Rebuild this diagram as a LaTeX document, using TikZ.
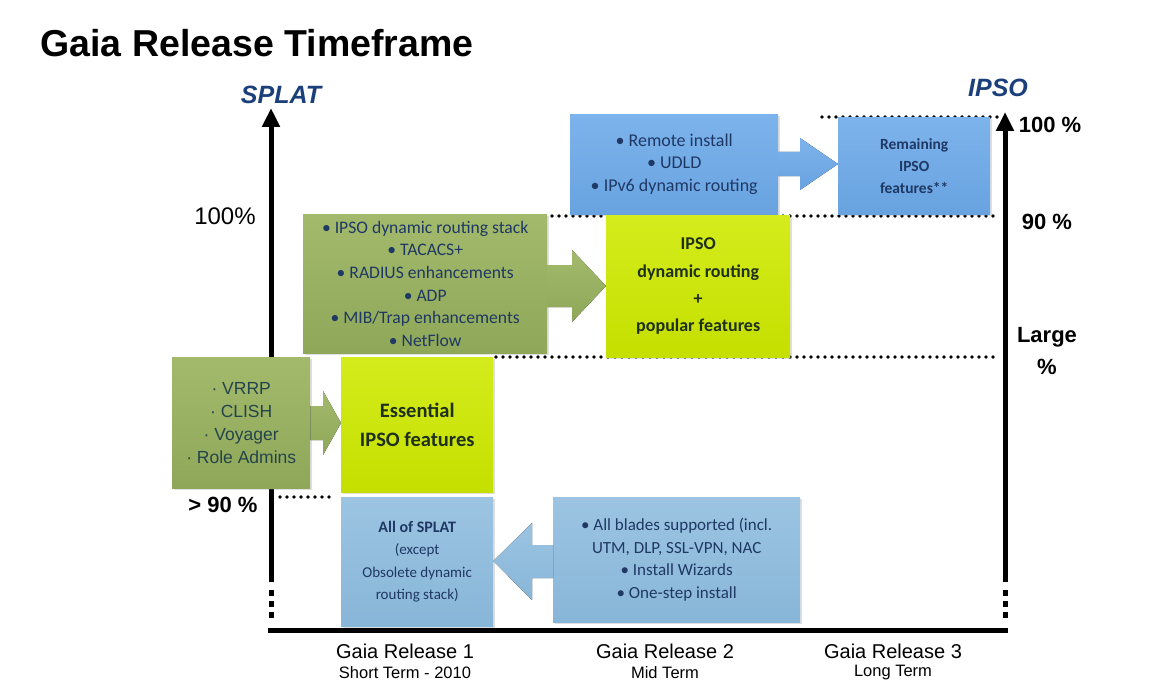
\documentclass[tikz,border=0pt]{standalone}
\usepackage{fontspec}
\setmainfont{Liberation Sans}
\newfontfamily\calib{Carlito}
\usetikzlibrary{arrows.meta,shadows,calc}
\definecolor{navy}{HTML}{1F3864}
\definecolor{labblue}{HTML}{1B3F7A}
\definecolor{olive}{HTML}{8FA758}
\definecolor{oliveL}{HTML}{A3BA6C}
\definecolor{lime}{HTML}{C5DF00}
\definecolor{limeL}{HTML}{D4EC1C}
\definecolor{bluebox}{HTML}{68A3E0}
\definecolor{blueboxL}{HTML}{7DB3EC}
\definecolor{lblue}{HTML}{88B6D8}
\definecolor{lblueL}{HTML}{9CC4E2}
\definecolor{limetext}{HTML}{1E301C}
\definecolor{teal}{HTML}{24444C}
\begin{document}
\begin{tikzpicture}[x=1pt,y=-1pt,
  box/.style={anchor=north west,inner sep=0pt,align=center,text=navy,
    drop shadow={shadow xshift=2pt,shadow yshift=-2pt,opacity=0.25}},
  greenbox/.style={box,top color=oliveL,bottom color=olive},
  limebox/.style={box,top color=limeL,bottom color=lime,text=limetext},
  bluebx/.style={box,top color=blueboxL,bottom color=bluebox},
  lbluebx/.style={box,top color=lblueL,bottom color=lblue},
  dotline/.style={line width=3.6pt,line cap=round,dash pattern=on 0pt off 7pt},
  axis/.style={line width=5pt},
  axisdash/.style={line width=5pt,dash pattern=on 6pt off 5pt},
  axlabel/.style={font=\fontsize{22}{26}\selectfont\bfseries},
  reltitle/.style={font=\fontsize{20}{24}\selectfont,anchor=center},
  relsub/.style={font=\fontsize{16.5}{20}\selectfont,anchor=center},
]
\useasboundingbox[fill=white] (0,0) rectangle (1154,698);

% title
\node[anchor=west,font=\fontsize{37.5}{42}\selectfont\bfseries] (title) at (37,43) {Gaia Release Timeframe};

% dotted guide lines
\draw[dotline] (822,117) -- (1000,117);
\draw[dotline] (545,216) -- (1000,216);
\draw[dotline] (496,357) -- (1000,357);
\draw[dotline] (280,497) -- (336,497);

% axes
\coordinate (lbot) at (271,582);
\coordinate (ltop) at (271,108);
\coordinate (rbot) at (1005,582);
\coordinate (rtop) at (1005,112);
\draw[axis,-{Triangle[width=17pt,length=19pt]}] (lbot) -- (ltop);
\draw[axis,-{Triangle[width=17pt,length=19pt]}] (rbot) -- (rtop);
\draw[axisdash] (271,590) -- (271,622);
\draw[axisdash] (1005,590) -- (1005,622);
\coordinate (bl) at (268,630);
\coordinate (br) at (1008,630);
\draw[axis] (bl) -- (br);

% axis labels
\node[font=\fontsize{25}{30}\selectfont\bfseries\itshape,text=labblue] (splat) at (281,95) {SPLAT};
\node[font=\fontsize{25}{30}\selectfont\bfseries\itshape,text=labblue] (ipso) at (998,88) {IPSO};
\node[font=\fontsize{24}{28}\selectfont] (l100) at (225,216) {100\%};
\node[axlabel] (l90) at (223,505) {> 90 \%};
\node[axlabel] (r100) at (1050,125) {100 \%};
\node[axlabel] (r90) at (1047,222) {90 \%};
\node[axlabel,align=center] (rlarge) at (1047,351) {Large\\[6pt]\%};

% release labels
\node[reltitle] (rel1) at (405,651) {Gaia Release 1};
\node[relsub] (sub1) at (405,673) {Short Term - 2010};
\node[reltitle] (rel2) at (665,651) {Gaia Release 2};
\node[relsub] (sub2) at (665,673) {Mid Term};
\node[reltitle] (rel3) at (893,651) {Gaia Release 3};
\node[relsub] (sub3) at (893,673) {Long Term};

% boxes
\node[bluebx,minimum width=208pt,minimum height=100pt,font=\calib\fontsize{18}{22.5}\selectfont] (remote) at (570,114)
  {• Remote install\\ • UDLD\\ • IPv6 dynamic routing};
\node[bluebx,minimum width=152pt,minimum height=97pt,font=\calib\fontsize{15.5}{22}\selectfont\bfseries] (remain) at (838,117)
  {Remaining\\ IPSO\\ features**};
\node[greenbox,minimum width=244pt,minimum height=139pt,font=\calib\fontsize{17.6}{22.6}\selectfont] (stack) at (303,214)
  {• IPSO dynamic routing stack\\ • TACACS+\\ • RADIUS enhancements\\ • ADP\\ • MIB/Trap enhancements\\ • NetFlow};
\node[limebox,minimum width=184pt,minimum height=142pt,font=\calib\fontsize{18}{27.3}\selectfont\bfseries] (popular) at (606,215)
  {IPSO\\ dynamic routing\\ +\\ popular features};
\node[greenbox,minimum width=138pt,minimum height=131pt,text=teal,font=\fontsize{17.5}{23}\selectfont] (vrrp) at (172,357)
  {· VRRP\\ · CLISH\\ · Voyager\\ · Role Admins};
\node[limebox,minimum width=152pt,minimum height=135pt,font=\calib\fontsize{20.5}{29}\selectfont\bfseries] (essential) at (341,357)
  {Essential\\ IPSO features};
\node[lbluebx,minimum width=152pt,minimum height=129pt,font=\calib\fontsize{15}{22.5}\selectfont] (allsplat) at (341,497)
  {{\fontsize{16}{22.5}\selectfont\bfseries All of SPLAT}\\ (except\\ Obsolete dynamic\\ routing stack)};
\node[lbluebx,minimum width=247pt,minimum height=125pt,font=\calib\fontsize{17}{22.5}\selectfont] (blades) at (553,497)
  {• All blades supported (incl.\\ UTM, DLP, SSL-VPN, NAC\\ • Install Wizards\\ • One-step install};

% block arrows
\fill[top color=blueboxL,bottom color=bluebox]
  (remote.east |- 0,152) -- (800,152) -- (800,138) -- (remain.west |- 0,164) -- (800,190) -- (800,176) -- (remote.east |- 0,176) -- cycle;
\fill[top color=oliveL,bottom color=olive]
  (stack.east |- 0,265) -- (572,265) -- (572,250) -- (popular.west |- 0,286) -- (572,322) -- (572,307) -- (stack.east |- 0,307) -- cycle;
\fill[top color=oliveL,bottom color=olive]
  (vrrp.east |- 0,406) -- (323,406) -- (323,391) -- (essential.west |- 0,423) -- (323,455) -- (323,440) -- (vrrp.east |- 0,440) -- cycle;
\fill[top color=lblueL,bottom color=lblue]
  (blades.west |- 0,545) -- (532,545) -- (532,523) -- (allsplat.east |- 0,561) -- (532,600) -- (532,578) -- (blades.west |- 0,578) -- cycle;
\end{tikzpicture}
\end{document}
